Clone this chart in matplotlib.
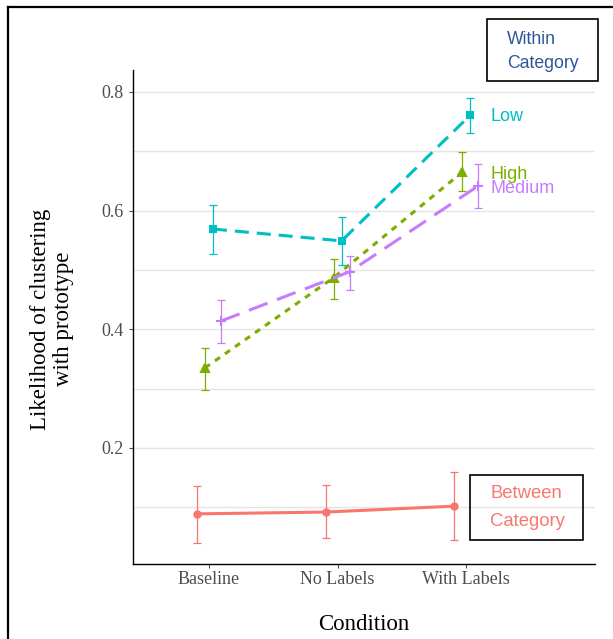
import matplotlib
matplotlib.use("Agg")
import matplotlib.pyplot as plt
from matplotlib.patches import Rectangle
from matplotlib.lines import Line2D
import numpy as np

conditions = ["Baseline", "No Labels", "With Labels"]
groups = ["Between", "High", "Low", "Medium"]
means = {
    "Between": [0.089, 0.092, 0.102],
    "High": [0.335, 0.487, 0.665],
    "Low": [0.569, 0.549, 0.761],
    "Medium": [0.414, 0.497, 0.642],
}
upper = {
    "Between": [0.136, 0.137, 0.160],
    "High": [0.369, 0.519, 0.699],
    "Low": [0.610, 0.589, 0.790],
    "Medium": [0.450, 0.524, 0.679],
}
lower = {
    "Between": [0.040, 0.048, 0.045],
    "High": [0.298, 0.451, 0.633],
    "Low": [0.527, 0.508, 0.731],
    "Medium": [0.377, 0.467, 0.605],
}
yticks = [0.2, 0.4, 0.6, 0.8]

colors = {"Between": "#F8766D", "High": "#7CAE00", "Low": "#00BFC4", "Medium": "#C77CFF"}
offsets = {"Between": -0.094, "High": -0.031, "Low": 0.031, "Medium": 0.094}
markers = {"Between": "o", "High": "^", "Low": "s", "Medium": "+"}
msizes = {"Between": 4.5, "High": 5.5, "Low": 4.5, "Medium": 7}
dashes = {"Between": None, "High": (0, (2.0, 2.0)), "Low": (0, (4.6, 2.6)), "Medium": (0, (6.5, 3.3))}

W, H = 613, 639
fig = plt.figure(figsize=(W / 100, H / 100), dpi=100)
ax = fig.add_axes([133 / W, 1 - 564 / H, (595 - 133) / W, (564 - 70) / H])

x = np.arange(1, len(conditions) + 1)
for g in groups:
    xs = x + offsets[g]
    m = np.array(means[g])
    ax.errorbar(xs, m, yerr=[m - np.array(lower[g]), np.array(upper[g]) - m],
                fmt="none", ecolor=colors[g], elinewidth=0.9, capsize=3, capthick=0.9, zorder=3)
    ls = "-" if dashes[g] is None else dashes[g]
    ax.plot(xs, m, color=colors[g], lw=2.2, linestyle=ls, marker=markers[g],
            markersize=msizes[g], markeredgewidth=1.5, zorder=4)

ax.set_xlim(0.41, 4.0)
ax.set_ylim(0.0045, 0.837)
ax.set_xticks(x)
ax.set_xticklabels(conditions)
ax.set_yticks(yticks)
ax.set_yticklabels([f"{v:.1f}" for v in yticks])
ax.set_yticks([0.1, 0.3, 0.5, 0.7], minor=True)
ax.tick_params(axis="y", which="minor", length=0)
ax.grid(axis="y", which="both", color="#E5E5E5", lw=1.0, zorder=0)
ax.set_axisbelow(True)
for s in ["top", "right"]:
    ax.spines[s].set_visible(False)
for s in ["left", "bottom"]:
    ax.spines[s].set_color("black")
    ax.spines[s].set_linewidth(1.0)
ax.tick_params(axis="both", which="major", colors="#4D4D4D", labelsize=13, length=3, width=0.8)
ax.tick_params(axis="x", pad=2)
for lab in ax.get_xticklabels() + ax.get_yticklabels():
    lab.set_family("Liberation Serif")

ax.set_xlabel("Condition", family="Liberation Serif", fontsize=16.5, labelpad=19)
fig.text(52 / W, 1 - 319 / H, "Likelihood of clustering\nwith prototype", rotation=90,
         ha="center", va="center", family="Liberation Serif", fontsize=16.5, linespacing=1.1)

# series labels
lab_y = {"Low": 0.758, "High": 0.661, "Medium": 0.638}
for g in ["Low", "High", "Medium"]:
    ax.text(3.19, lab_y[g], g, color=colors[g], fontsize=13, family="Liberation Sans",
            ha="left", va="center")

# boxes
fig.add_artist(Rectangle((487 / W, 1 - 81 / H), (598 - 487) / W, (81 - 19) / H,
                         transform=fig.transFigure, fill=False, edgecolor="black", lw=1.2))
fig.text(507 / W, 1 - 40 / H, "Within", color="#2E5597", fontsize=12.7, family="Liberation Sans", va="center")
fig.text(507 / W, 1 - 63 / H, "Category", color="#2E5597", fontsize=12.7, family="Liberation Sans", va="center")
fig.add_artist(Rectangle((470 / W, 1 - 540 / H), (583 - 470) / W, (540 - 475) / H,
                         transform=fig.transFigure, fill=False, edgecolor="black", lw=1.2))
fig.text(490 / W, 1 - 494 / H, "Between", color="#F8766D", fontsize=13.3, family="Liberation Sans", va="center")
fig.text(490 / W, 1 - 521 / H, "Category", color="#F8766D", fontsize=13.3, family="Liberation Sans", va="center")

# outer frame (left and top edges)
fig.add_artist(Line2D([8 / W, 8 / W], [0, 1 - 7 / H], transform=fig.transFigure, color="black", lw=1.6))
fig.add_artist(Line2D([8 / W, 1], [1 - 7 / H, 1 - 7 / H], transform=fig.transFigure, color="black", lw=1.6))

fig.savefig("out.png", dpi=100)
